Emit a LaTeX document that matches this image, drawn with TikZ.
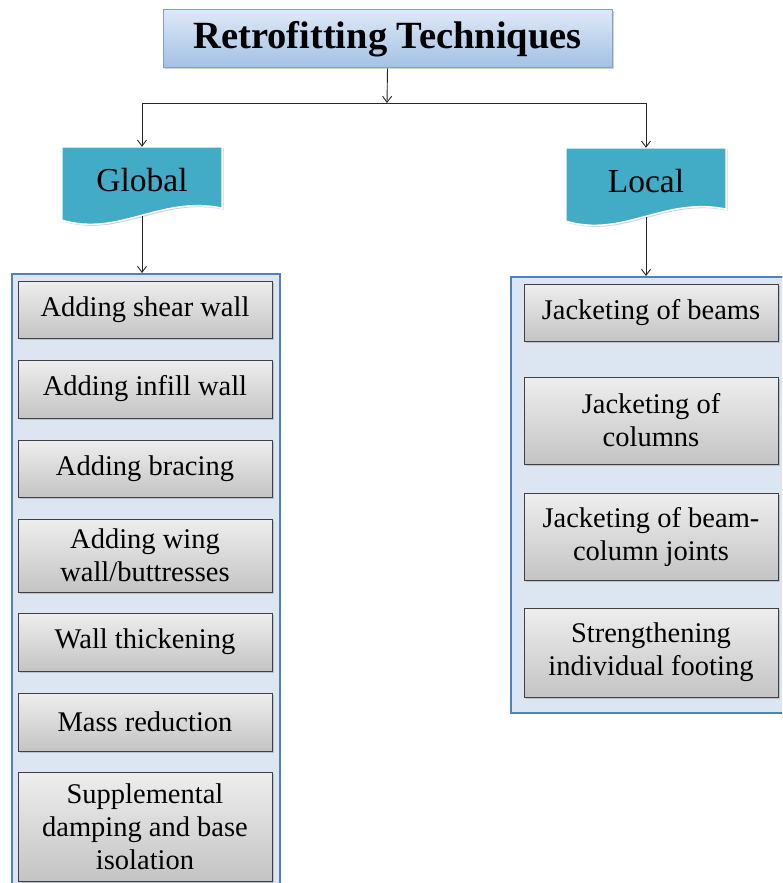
\documentclass[tikz,border=0pt]{standalone}
\usepackage{fontspec}
\setmainfont{Liberation Serif}
\usetikzlibrary{arrows.meta,shadows,backgrounds,calc}

\definecolor{tealdoc}{RGB}{66,171,198}
\definecolor{panelfill}{RGB}{220,230,242}
\definecolor{paneldraw}{RGB}{79,129,189}
\definecolor{titletop}{RGB}{222,233,246}
\definecolor{titlebot}{RGB}{163,192,229}
\definecolor{titledraw}{RGB}{126,160,210}
\definecolor{itemtop}{RGB}{238,238,238}
\definecolor{itembot}{RGB}{196,196,196}

\tikzset{
  conn/.style={draw=black!85, line width=0.9pt, -{Straight Barb[length=6pt,width=9pt]}},
  softshadow/.style={drop shadow={shadow xshift=1.5pt, shadow yshift=-1.5pt, opacity=0.35}},
  titlebox/.style={draw=titledraw, line width=1pt, top color=titletop, bottom color=titlebot,
    minimum width=449pt, minimum height=58pt, inner sep=0pt, softshadow,
    font=\fontsize{38.5}{42}\selectfont\bfseries},
  docnode/.style={minimum width=160pt, minimum height=66pt, inner sep=0pt,
    font=\fontsize{33.5}{36}\selectfont},
  docshape/.style={fill=tealdoc, draw=white, line width=1.5pt, softshadow},
  panel/.style={draw=paneldraw, line width=1.5pt, fill=panelfill, inner sep=0pt},
  item/.style={draw=black!75, line width=1pt, top color=itemtop, bottom color=itembot,
    minimum width=254pt, align=center, inner sep=0pt, softshadow,
    font=\fontsize{28.5}{33}\selectfont}
}

% teal "document" shape with a wavy bottom, behind a named node
\newcommand\docwave[1]{%
  \begin{scope}[on background layer]
    \filldraw[docshape] (#1.north west) -- (#1.north east) -- ($(#1.south east)+(0,5)$)
      .. controls ($(#1.south east)+(-62,18)$) and ($(#1.south west)+(58,-24)$) ..
      ($(#1.south west)+(0,-7)$) -- cycle;
  \end{scope}}

\begin{document}
\begin{tikzpicture}[x=1pt,y=1pt]
\useasboundingbox (0,0) rectangle (782,-883);
\clip (0,0) rectangle (782,-883);

% top of the tree
\node[titlebox] (title) at (387.5,-39) {Retrofitting Techniques};
\coordinate (split) at (387,-103);

\node[docnode] (glob) at (142,-180) {Global};
\node[docnode] (loc) at (646,-181) {Local};
\docwave{glob}
\docwave{loc}

\draw[conn] (title.south) -- (split);
\draw[conn] (split) -| (glob.north);
\draw[conn] (split) -| (loc.north);

% the two panels
\node[panel, minimum width=268pt, minimum height=630pt, anchor=north west] (gpanel) at (11,-273) {};
\node[panel, minimum width=280pt, minimum height=436pt, anchor=north west] (lpanel) at (510,-276) {};

\draw[conn] ([yshift=-3pt]glob.south) -- (glob.south |- gpanel.north);
\draw[conn] ([yshift=-3pt]loc.south) -- (loc.south |- lpanel.north);

% global techniques
\foreach \yc/\hgt/\txt [count=\i] in {
    309.5/57/{Adding shear wall},
    389/58/{Adding infill wall},
    468.5/57/{Adding bracing},
    555.5/73/{Adding wing\\wall/buttresses},
    642/58/{Wall thickening},
    722/58/{Mass reduction},
    826.5/109/{Supplemental\\damping and base\\isolation}}{
  \node[item, minimum height=\hgt pt] (g\i) at (145,-\yc) {\txt};
}

% local techniques
\foreach \yc/\hgt/\txt [count=\i] in {
    312.5/57/{Jacketing of beams},
    420.5/87/{Jacketing of\\columns},
    536.5/87/{Jacketing of beam-\\column joints},
    652.5/89/{Strengthening\\individual footing}}{
  \node[item, minimum height=\hgt pt] (l\i) at (651,-\yc) {\txt};
}

\end{tikzpicture}
\end{document}
